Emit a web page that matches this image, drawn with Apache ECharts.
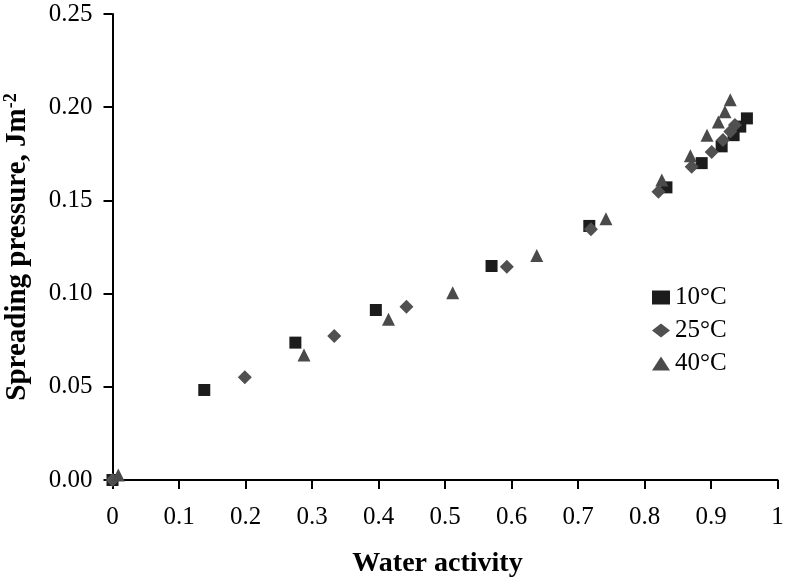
<!DOCTYPE html>
<html>
<head>
<meta charset="utf-8">
<script src="https://cdn.jsdelivr.net/npm/echarts@6/dist/echarts.min.js"></script>
<style>html,body{margin:0;padding:0;background:#fff}#c{width:786px;height:580px}</style>
</head>
<body>
<div id="c"></div>
<script>
const seriesNames = ['10°C', '25°C', '40°C'];
const aw10 = [0, 0.138, 0.275, 0.396, 0.570, 0.717, 0.833, 0.886, 0.916, 0.934, 0.944, 0.954];
const sp10 = [0, 0.0483, 0.0737, 0.0912, 0.1148, 0.1363, 0.157, 0.170, 0.179, 0.185, 0.1896, 0.194];
const aw25 = [0, 0.199, 0.3335, 0.442, 0.593, 0.7195, 0.821, 0.871, 0.901, 0.918, 0.929, 0.936];
const sp25 = [0, 0.0551, 0.0773, 0.093, 0.1144, 0.1345, 0.1547, 0.168, 0.176, 0.1824, 0.187, 0.1905];
const aw40 = [0.0087, 0.288, 0.415, 0.5116, 0.638, 0.742, 0.826, 0.869, 0.894, 0.911, 0.921, 0.929];
const sp40 = [0.0027, 0.067, 0.0862, 0.1005, 0.1205, 0.1402, 0.161, 0.174, 0.185, 0.192, 0.1976, 0.204];
const xTitle = 'Water activity';
const yTitle = 'Spreading pressure, Jm';
const ySup = '-2';

const FONT = "'Liberation Serif', 'Times New Roman', serif";
const pairs = (xs, ys) => xs.map((x, i) => [x, ys[i]]);

const chart = echarts.init(document.getElementById('c'), null, {renderer: 'canvas'});
chart.setOption({
  animation: false,
  backgroundColor: '#fff',
  grid: {left: 112.5, right: 8.5, top: 14, bottom: 100, containLabel: false, outerBoundsMode: 'none'},
  legend: {
    orient: 'vertical',
    left: 647, top: 280,
    itemWidth: 18, itemHeight: 14, itemGap: 8,
    textStyle: {fontFamily: FONT, fontSize: 25, color: '#000'},
    data: seriesNames
  },
  xAxis: {
    type: 'value', min: 0, max: 1, interval: 0.1,
    name: xTitle, nameLocation: 'middle', nameGap: 70,
    nameTextStyle: {fontFamily: FONT, fontSize: 28, fontWeight: 'bold', color: '#000', padding: [0, 15, 0, 0]},
    axisLine: {show: true, onZero: false, lineStyle: {color: '#000', width: 2}},
    axisTick: {show: true, inside: false, length: 9, lineStyle: {color: '#000', width: 2}},
    axisLabel: {fontFamily: FONT, fontSize: 25, color: '#000', margin: 25},
    splitLine: {show: false}
  },
  yAxis: {
    type: 'value', min: 0, max: 0.25, interval: 0.05,
    name: '{a|' + yTitle + '}{s|' + ySup + '}', nameLocation: 'middle', nameGap: 79, nameRotate: 90,
    nameTextStyle: {
      fontFamily: FONT, fontSize: 29, fontWeight: 'bold', color: '#000',
      rich: {
        a: {fontFamily: FONT, fontSize: 29, fontWeight: 'bold', color: '#000', lineHeight: 31},
        s: {fontFamily: FONT, fontSize: 18, fontWeight: 'bold', color: '#000', verticalAlign: 'top', lineHeight: 31, padding: [0, 0, 14, 0]}
      }
    },
    axisLine: {show: true, onZero: false, lineStyle: {color: '#000', width: 2}},
    axisTick: {show: true, inside: false, length: 9, lineStyle: {color: '#000', width: 2}},
    axisLabel: {fontFamily: FONT, fontSize: 25, color: '#000', margin: 20, formatter: v => v.toFixed(2)},
    splitLine: {show: false}
  },
  series: [
    {name: seriesNames[0], type: 'scatter', symbol: 'rect', symbolSize: 12,
     itemStyle: {color: '#1c1c1c', opacity: 1}, data: pairs(aw10, sp10)},
    {name: seriesNames[1], type: 'scatter', symbol: 'diamond', symbolSize: 14,
     itemStyle: {color: '#505050', opacity: 1}, data: pairs(aw25, sp25)},
    {name: seriesNames[2], type: 'scatter', symbol: 'triangle', symbolSize: 13,
     itemStyle: {color: '#4a4a4a', opacity: 1}, data: pairs(aw40, sp40)}
  ]
});
</script>
</body>
</html>
